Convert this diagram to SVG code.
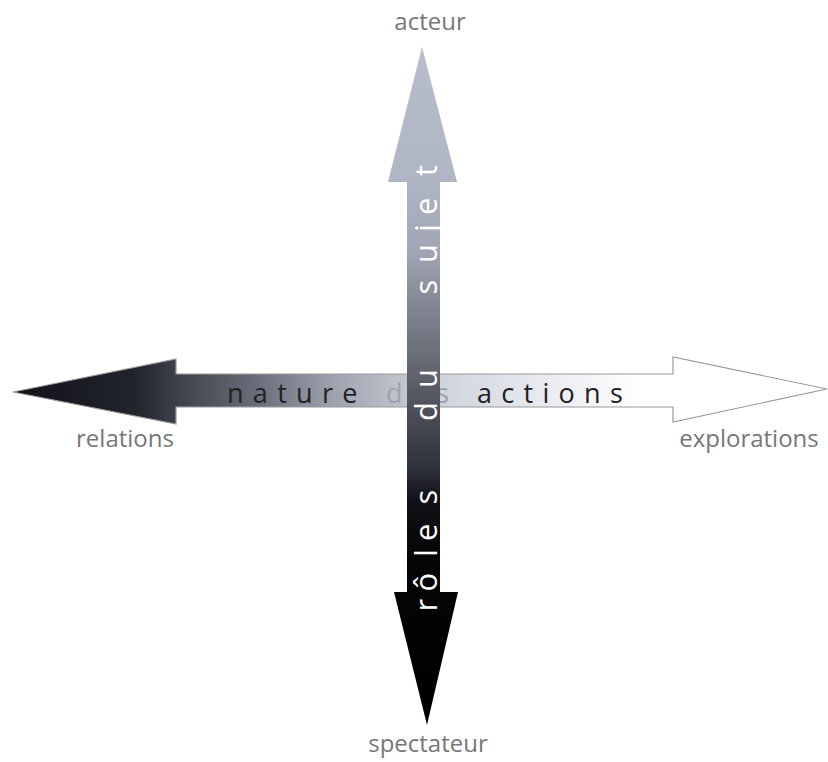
<svg xmlns="http://www.w3.org/2000/svg" width="828" height="762" viewBox="0 0 828 762">
<defs>
<linearGradient id="gh" gradientUnits="userSpaceOnUse" x1="13" y1="0" x2="827" y2="0">
<stop offset="0" stop-color="#111218"/>
<stop offset="0.15" stop-color="#22242c"/>
<stop offset="0.2" stop-color="#3c4048"/>
<stop offset="0.3" stop-color="#6a6e7a"/>
<stop offset="0.39" stop-color="#9ca0ac"/>
<stop offset="0.475" stop-color="#bfc3ce"/>
<stop offset="0.525" stop-color="#cfd3dd"/>
<stop offset="0.67" stop-color="#eceef2"/>
<stop offset="0.77" stop-color="#ffffff"/>
<stop offset="1" stop-color="#ffffff"/>
</linearGradient>
<linearGradient id="gv" gradientUnits="userSpaceOnUse" x1="0" y1="47" x2="0" y2="725">
<stop offset="0" stop-color="#b8bdcc"/>
<stop offset="0.2" stop-color="#b0b5c3"/>
<stop offset="0.3" stop-color="#a2a6b4"/>
<stop offset="0.4" stop-color="#7c808c"/>
<stop offset="0.5" stop-color="#5a5d66"/>
<stop offset="0.62" stop-color="#30323a"/>
<stop offset="0.67" stop-color="#101116"/>
<stop offset="0.75" stop-color="#050506"/>
<stop offset="1" stop-color="#000000"/>
</linearGradient>
</defs>
<style>
.lbl{font-family:"Open Sans","DejaVu Sans",sans-serif;font-size:24px;fill:#777;text-anchor:middle}
.ax{font-family:"Open Sans","DejaVu Sans",sans-serif}
</style>
<rect width="828" height="762" fill="#ffffff"/>
<g id="connectors">
<g id="axis-actions">
<polygon points="13,392 176,359 176,374 673,374 673,357 827,389 673,422 673,407 176,407 176,424" fill="url(#gh)" stroke="#9a9a9a" stroke-width="1.2"/>
<text class="ax" x="227" y="403" font-size="27" letter-spacing="9.3"><tspan fill="#222">nature </tspan><tspan x="386" fill="#9ea2ac">des </tspan><tspan x="477" fill="#222">actions</tspan></text>
</g>
<g id="axis-roles">
<polygon points="422,47 457,182 440,182 440,592 458,592 427,725 394,592 407,592 407,182 388,182" fill="url(#gv)"/>
<text class="ax" transform="translate(437,0) rotate(-90)" font-size="31" fill="#ffffff" x="-611.5 -591.5 -557 -541 -504.5 -470 -421 -388 -340 -294.5 -263 -232 -215 -176" y="0">rôles du sujet</text>
</g>
</g>
<g id="acteur"><text class="lbl" x="430" y="30">acteur</text></g>
<g id="spectateur"><text class="lbl" x="428" y="752">spectateur</text></g>
<g id="relations"><text class="lbl" x="125" y="447">relations</text></g>
<g id="explorations"><text class="lbl" x="749" y="447">explorations</text></g>
</svg>
